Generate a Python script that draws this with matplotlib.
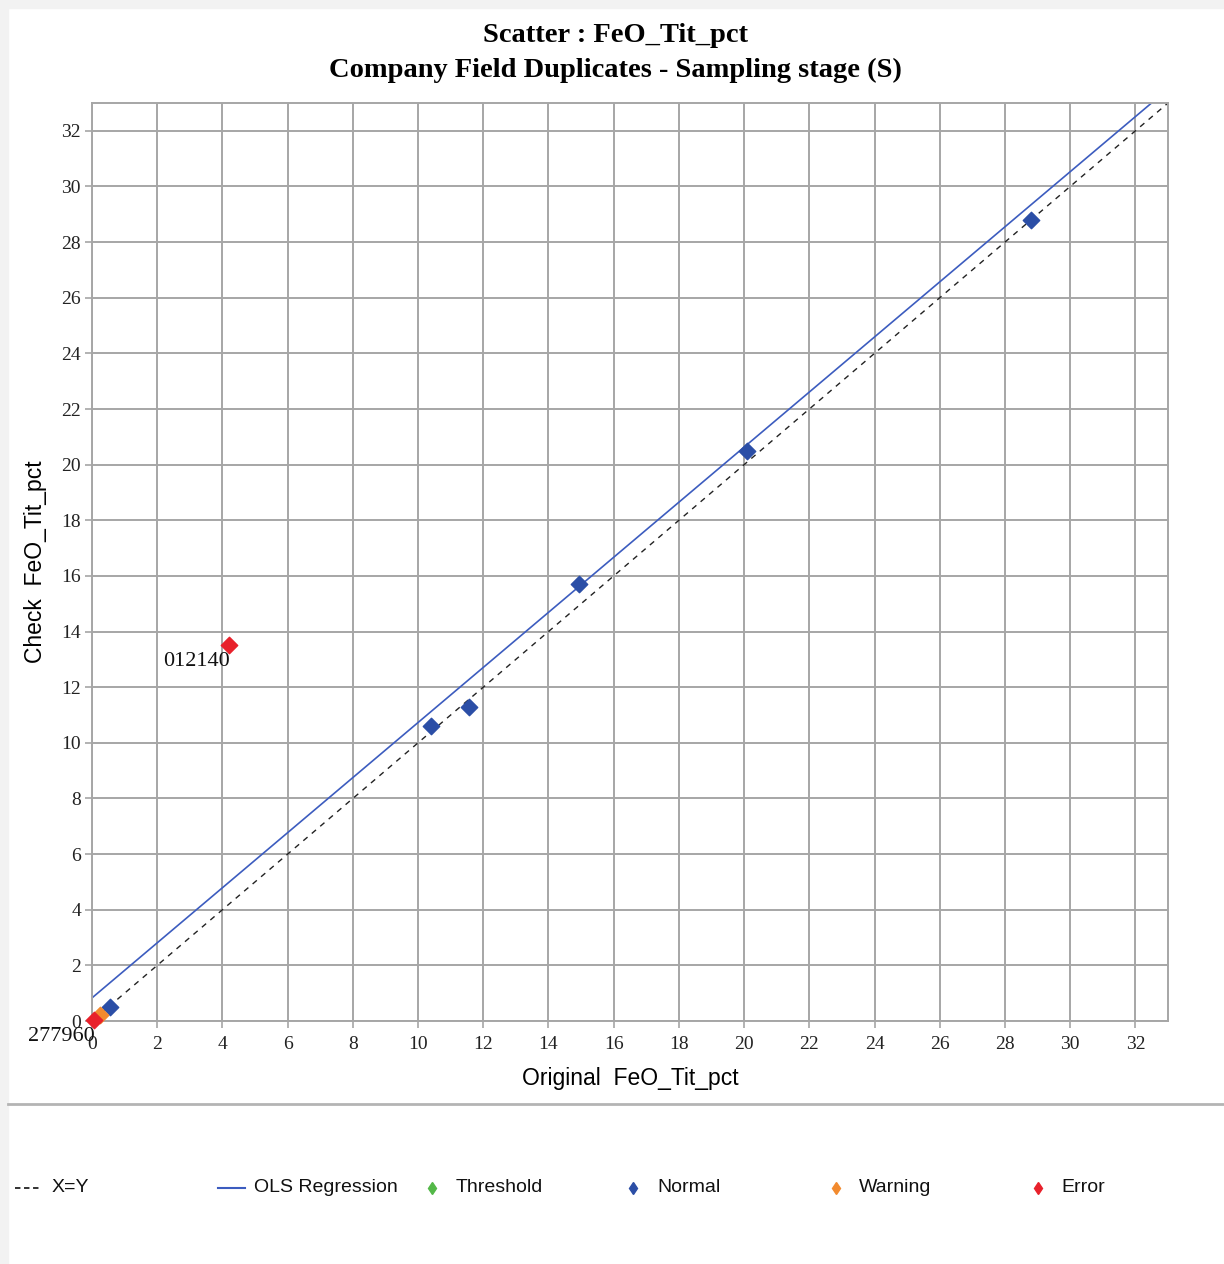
import numpy as np
import matplotlib
matplotlib.use('Agg')
import matplotlib.pyplot as plt
from matplotlib.lines import Line2D
from matplotlib.patches import Rectangle

# Data
normal_x = [0.55, 10.4, 11.55, 14.95, 20.1, 28.8]
normal_y = [0.5, 10.6, 11.3, 15.7, 20.5, 28.8]
warning_x = [0.25]
warning_y = [0.22]
error_x = [0.05, 4.2]
error_y = [0.05, 13.52]
error_ids = ['277960', '012140']
ols_slope = 0.99
ols_intercept = 0.83
ticks = list(range(0, 33, 2))
axis_max = 33

c_normal = '#2b4ea6'
c_warning = '#f28a2e'
c_error = '#e8212b'
c_threshold = '#53b848'
c_ols = '#3c5cbf'
c_grid = '#a6a6a6'

fig = plt.figure(figsize=(12.24, 12.64), dpi=100)
fig.patch.set_facecolor('white')
# light frame on left/top edges like the screenshot
fig.add_artist(Rectangle((0, 0), 8 / 1224, 1, transform=fig.transFigure, color='#f2f2f2', zorder=0))
fig.add_artist(Rectangle((0, 1 - 8 / 1264), 1, 8 / 1264, transform=fig.transFigure, color='#f2f2f2', zorder=0))
fig.add_artist(Line2D([8 / 1224, 1], [1 - 1104 / 1264] * 2, transform=fig.transFigure, color='#b4b4b4', lw=2))

ax = fig.add_axes([92 / 1224, 1 - 1021 / 1264, (1168 - 92) / 1224, (1021 - 103) / 1264])
ax.set_xlim(0, axis_max)
ax.set_ylim(0, axis_max)
ax.set_xticks(ticks)
ax.set_yticks(ticks)
ax.grid(True, color=c_grid, lw=1.4)
ax.set_axisbelow(True)
for s in ax.spines.values():
    s.set_color(c_grid)
    s.set_linewidth(1.4)
ax.tick_params(length=5, color=c_grid, width=1.2, labelsize=14, labelcolor='#222222')
ax.tick_params(axis='x', pad=6)
ax.tick_params(axis='y', pad=3)
for lab in ax.get_xticklabels() + ax.get_yticklabels():
    lab.set_family('Liberation Serif')

xx = np.array([0, axis_max])
ax.plot(xx, xx, color='#222222', ls=(0, (4, 4)), lw=1.0, zorder=2)
ax.plot(xx, ols_intercept + ols_slope * xx, color=c_ols, lw=1.2, zorder=2)

ax.scatter(normal_x, normal_y, marker='D', s=70, color=c_normal, zorder=3, clip_on=False)
ax.scatter(warning_x, warning_y, marker='D', s=70, color=c_warning, zorder=3, clip_on=False)
ax.scatter(error_x, error_y, marker='D', s=70, color=c_error, zorder=4, clip_on=False)
for x, y, t in zip(error_x, error_y, error_ids):
    ax.annotate(t, (x, y), xytext=(1, -5), textcoords='offset points', ha='right', va='top',
                fontsize=16, family='Liberation Serif', color='#111111', zorder=5)

ax.set_xlabel('Original  FeO_Tit_pct', fontsize=16.5, family='Liberation Sans', labelpad=10)
ax.set_ylabel('Check  FeO_Tit_pct', fontsize=16.5, family='Liberation Sans', labelpad=10)

fig.text(0.503, 1 - 35 / 1264, 'Scatter : FeO_Tit_pct', ha='center', va='center',
         fontsize=20.5, fontweight='bold', family='Liberation Serif')
fig.text(0.503, 1 - 70 / 1264, 'Company Field Duplicates - Sampling stage (S)', ha='center', va='center',
         fontsize=20.5, fontweight='bold', family='Liberation Serif')

# legend row
leg_y = 1 - 1188 / 1264
items = [
    ('X=Y', 'line', '#222222', 15, 52),
    ('OLS Regression', 'solid', c_ols, 218, 254),
    ('Threshold', 'marker', c_threshold, 432, 456),
    ('Normal', 'marker', c_normal, 633, 657),
    ('Warning', 'marker', c_warning, 836, 859),
    ('Error', 'marker', c_error, 1038, 1061),
]
for label, kind, col, mx, tx in items:
    if kind == 'line':
        fig.add_artist(Line2D([mx / 1224, (mx + 27) / 1224], [leg_y, leg_y], transform=fig.transFigure,
                              color=col, ls=(0, (3, 2)), lw=1.3))
    elif kind == 'solid':
        fig.add_artist(Line2D([mx / 1224, (mx + 27) / 1224], [leg_y, leg_y], transform=fig.transFigure,
                              color=col, lw=1.5))
    else:
        fig.add_artist(Line2D([mx / 1224], [leg_y], transform=fig.transFigure, marker='d',
                              markersize=6, color=col, lw=0))
    fig.text(tx / 1224, leg_y, label, ha='left', va='center', fontsize=14,
             family='Liberation Sans', color='#111111')

fig.savefig('out.png', dpi=100)
